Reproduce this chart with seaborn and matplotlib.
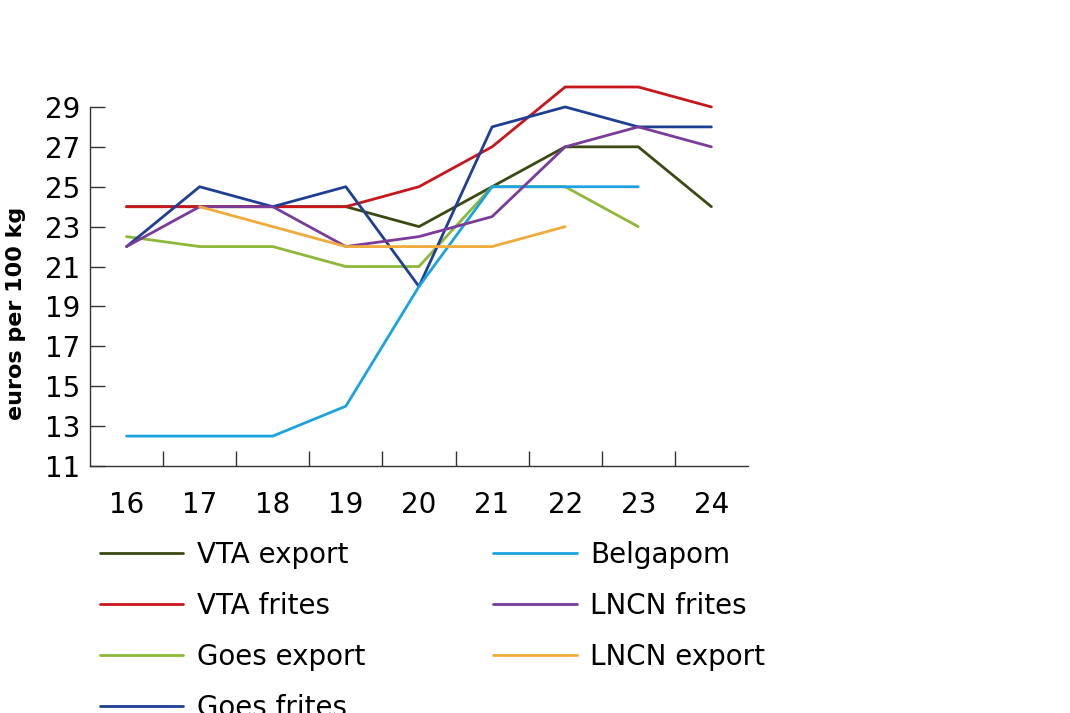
import numpy as np
import pandas as pd
import matplotlib
matplotlib.use("Agg")
import matplotlib.pyplot as plt
import seaborn as sns

weeks = [16, 17, 18, 19, 20, 21, 22, 23, 24]
vta_export = [24, 24, 24, 24, 23, 25, 27, 27, 24]
vta_frites = [24, 24, 24, 24, 25, 27, 30, 30, 29]
goes_export = [22.5, 22, 22, 21, 21, 25, 25, 23, np.nan]
goes_frites = [22, 25, 24, 25, 20, 28, 29, 28, 28]
belgapom = [12.5, 12.5, 12.5, 14, 20, 25, 25, 25, np.nan]
lncn_frites = [22, 24, 24, 22, 22.5, 23.5, 27, 28, 27]
lncn_export = [np.nan, 24, 23, 22, 22, 22, 23, np.nan, np.nan]

series = {
    "VTA export": vta_export,
    "VTA frites": vta_frites,
    "Goes export": goes_export,
    "Goes frites": goes_frites,
    "Belgapom": belgapom,
    "LNCN frites": lncn_frites,
    "LNCN export": lncn_export,
}
colors = ["#3b4a12", "#c8161d", "#8db83a", "#1f3f94", "#1aa3e0", "#7a3b9a", "#f0ab3a"]

rows = []
for name, vals in series.items():
    for w, v in zip(weeks, vals):
        rows.append({"week": w, "price": v, "serie": name})
df = pd.DataFrame(rows).dropna()

sns.set_style("white")
plt.rcParams["font.family"] = ["DejaVu Sans"]
plt.rcParams["text.color"] = "black"

fig = plt.figure(figsize=(10.7, 7.13), dpi=100)
ax = fig.add_axes([0.0841, 0.3464, 0.6149, 0.5316])

sns.lineplot(data=df, x="week", y="price", hue="serie",
             hue_order=list(series.keys()), palette=colors,
             linewidth=2.0, ax=ax, legend=True, clip_on=False)

ax.set_xlim(15.5, 24.5)
ax.set_ylim(11, 30)
ax.spines["top"].set_visible(False)
ax.spines["right"].set_visible(False)
ax.spines["left"].set_bounds(11, 29)
for s in ["left", "bottom"]:
    ax.spines[s].set_color("#333333")
    ax.spines[s].set_linewidth(1.0)

ax.set_yticks(range(11, 30, 2))
ax.tick_params(axis="y", direction="in", length=11, width=1, colors="#333333",
               labelsize=20, labelcolor="black", pad=7, left=True)
ax.set_xticks(weeks)
ax.set_xticks([w + 0.5 for w in weeks[:-1]], minor=True)
ax.tick_params(axis="x", which="major", length=0, labelsize=20, pad=18,
               labelcolor="black")
ax.tick_params(axis="x", which="minor", direction="in", length=11, width=1,
               colors="#333333", bottom=True)
ax.set_xlabel("")
ax.set_ylabel("euros per 100 kg", fontsize=16, fontweight="heavy",
              color="black", labelpad=12)
ax.yaxis.set_label_coords(-0.098, 0.404)

handles, labels = ax.get_legend_handles_labels()
ax.get_legend().remove()
leg = fig.legend(handles, labels, ncol=2, loc="upper left",
                 bbox_to_anchor=(0.07, 0.276), frameon=False, fontsize=20,
                 handlelength=3.0, handletextpad=0.5, columnspacing=4.6,
                 labelspacing=0.82)
for t in leg.get_texts():
    t.set_color("black")

fig.savefig("out.png", dpi=100)
